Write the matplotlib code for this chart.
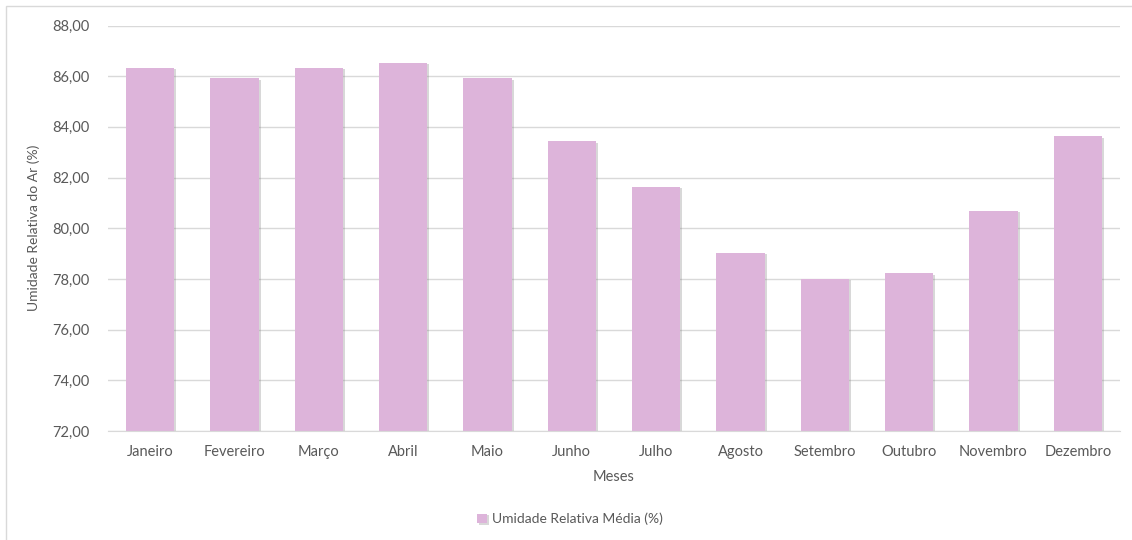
import matplotlib
matplotlib.use("Agg")
import matplotlib.pyplot as plt
import matplotlib.patheffects as pe
from matplotlib.patches import Rectangle
from matplotlib.ticker import FuncFormatter

meses = ['Janeiro', 'Fevereiro', 'Março', 'Abril', 'Maio', 'Junho',
         'Julho', 'Agosto', 'Setembro', 'Outubro', 'Novembro', 'Dezembro']
umidade = [86.34, 85.91, 86.34, 86.54, 85.91, 83.43,
           81.63, 79.04, 78.00, 78.22, 80.68, 83.63]

plt.rcParams['font.family'] = ['Lato', 'DejaVu Sans']
cor_texto = '#595959'
cor_barra = '#DDB4DA'

fig = plt.figure(figsize=(11.32, 5.4), dpi=100)
ax = fig.add_axes([108 / 1132, 1 - 431 / 540, (1120 - 108) / 1132, (431 - 25.5) / 540])

bars = ax.bar(range(len(meses)), umidade, width=0.57, color=cor_barra,
              label='Umidade Relativa Média (%)', zorder=3)
for b in bars:
    b.set_path_effects([pe.SimplePatchShadow(offset=(1.5, -1.0), shadow_rgbFace='#808080', alpha=0.3),
                        pe.Normal()])

ax.set_ylim(72, 88)
ax.set_xlim(-0.5, len(meses) - 0.5)
ax.set_yticks(range(72, 89, 2))
ax.yaxis.set_major_formatter(FuncFormatter(lambda v, p: f'{v:.2f}'.replace('.', ',')))
ax.set_xticks(range(len(meses)))
ax.set_xticklabels(meses)
ax.tick_params(length=0, colors=cor_texto, labelsize=10.5)
ax.tick_params(axis='y', pad=13)
ax.tick_params(axis='x', pad=10)
ax.grid(axis='y', color='#D9D9D9', linewidth=1, zorder=0)
for s in ['top', 'right', 'left']:
    ax.spines[s].set_visible(False)
ax.spines['bottom'].set_color('#D9D9D9')
ax.spines['bottom'].set_zorder(4)

ax.set_xlabel('Meses', color=cor_texto, fontsize=10.5, labelpad=8)
ax.set_ylabel('Umidade Relativa do Ar (%)', color=cor_texto, fontsize=10, labelpad=9)

leg = fig.legend(handles=[bars], labels=['Umidade Relativa Média (%)'],
                 loc='center', bbox_to_anchor=(570 / 1132, 1 - 519 / 540),
                 frameon=False, handlelength=0.7, handleheight=0.7,
                 handletextpad=0.4, fontsize=10)
for t in leg.get_texts():
    t.set_color(cor_texto)

fig.patches.append(Rectangle((6 / 1132, -0.02), 1.1, 1 - 6 / 540 + 0.02,
                             transform=fig.transFigure, fill=False,
                             edgecolor='#D9D9D9', linewidth=1))

fig.savefig('out.png', dpi=100)
